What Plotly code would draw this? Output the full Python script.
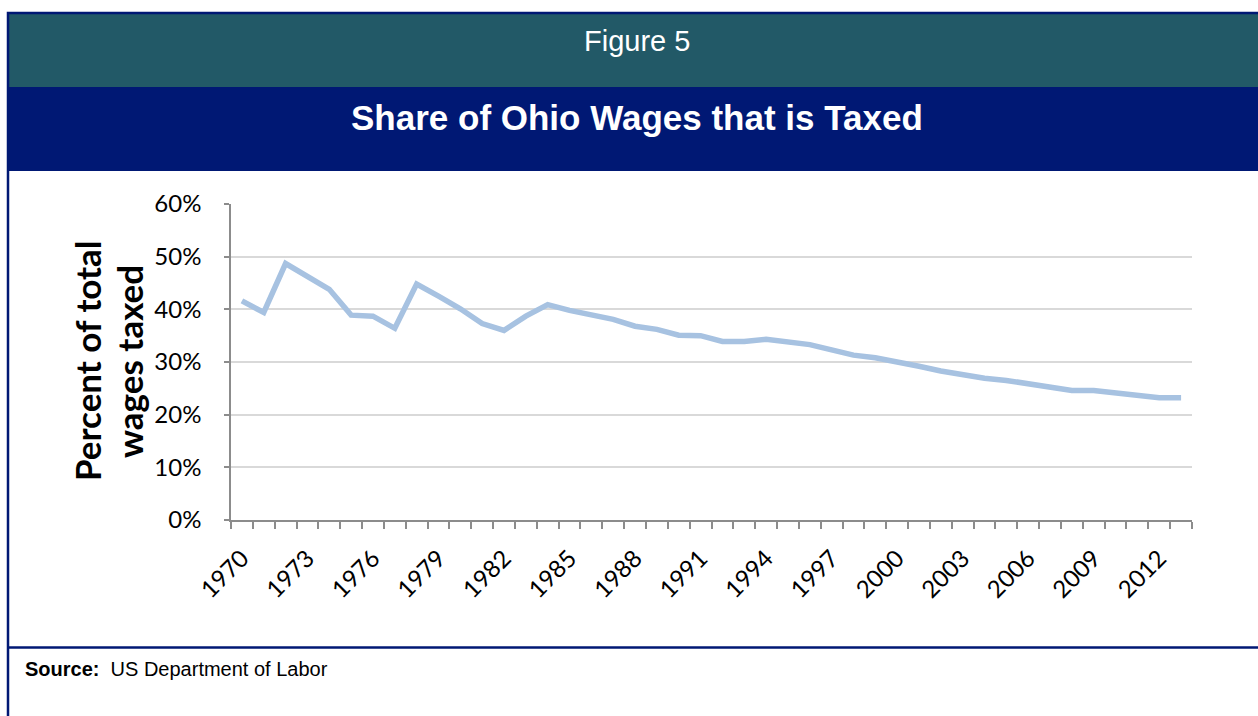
import plotly.graph_objects as go

# ---- data ----
years = list(range(1970, 2014))
share = [0.416, 0.394, 0.487, 0.463, 0.438, 0.389, 0.387, 0.364, 0.448, 0.425,
         0.401, 0.373, 0.360, 0.387, 0.409, 0.398, 0.390, 0.381, 0.368, 0.362,
         0.351, 0.350, 0.339, 0.339, 0.343, 0.339, 0.333, 0.323, 0.313, 0.308,
         0.301, 0.292, 0.283, 0.276, 0.269, 0.265, 0.259, 0.254, 0.246, 0.246,
         0.241, 0.238, 0.232, 0.232]
label_years = years[::3]
y_ticks = [0, 0.1, 0.2, 0.3, 0.4, 0.5, 0.6]

W, H = 1258, 716
L, R, T, B = 231, 1192, 204, 520
PW, PH = R - L, B - T

def px(x):
    return (x - L) / PW

def py(y):
    return (B - y) / PH

TEAL = "#225967"
NAVY = "#001874"
sans = "Liberation Sans, Arial, sans-serif"
calib = "Lato, Carlito, Calibri, sans-serif"

idx = list(range(len(years)))

fig = go.Figure()
fig.add_trace(go.Scatter(
    x=idx, y=share, mode="lines",
    line=dict(color="#A7C2E1", width=5.5),
    hoverinfo="skip", showlegend=False,
))

shapes = [
    dict(type="rect", xref="paper", yref="paper", x0=px(8), x1=px(1270), y0=py(87), y1=py(13),
         fillcolor=TEAL, line=dict(width=0), layer="below"),
    dict(type="rect", xref="paper", yref="paper", x0=px(8), x1=px(1270), y0=py(171), y1=py(87),
         fillcolor=NAVY, line=dict(width=0), layer="below"),
    dict(type="rect", xref="paper", yref="paper", x0=px(8), x1=px(1275), y0=py(740), y1=py(13),
         fillcolor="rgba(0,0,0,0)", line=dict(color=NAVY, width=2.5)),
    dict(type="line", xref="paper", yref="paper", x0=px(8), x1=px(1270), y0=py(647.5), y1=py(647.5),
         line=dict(color=NAVY, width=2.5)),
]

annotations = [
    dict(text="Figure 5", xref="paper", yref="paper", x=px(637), y=py(41),
         xanchor="center", yanchor="middle", showarrow=False,
         font=dict(family=sans, size=29, color="white")),
    dict(text="<b>Share of Ohio Wages that is Taxed</b>", xref="paper", yref="paper",
         x=px(637), y=py(117), xanchor="center", yanchor="middle", showarrow=False,
         font=dict(family=sans, size=35, color="white")),
    dict(text="<b>Percent of total</b>", xref="paper", yref="paper", x=px(87), y=py(361),
         xanchor="center", yanchor="middle", showarrow=False, textangle=-90,
         font=dict(family=calib, size=35, color="black")),
    dict(text="<b>wages taxed</b>", xref="paper", yref="paper", x=px(129), y=py(362),
         xanchor="center", yanchor="middle", showarrow=False, textangle=-90,
         font=dict(family=calib, size=35, color="black")),
    dict(text="<b>Source:</b>  US Department of Labor", xref="paper", yref="paper",
         x=px(23), y=py(669), xanchor="left", yanchor="middle", showarrow=False,
         font=dict(family=sans, size=20, color="black")),
]

fig.update_layout(
    width=W, height=H,
    margin=dict(l=L, r=W - R, t=T, b=H - B, pad=0),
    paper_bgcolor="white", plot_bgcolor="white",
    shapes=shapes, annotations=annotations,
    showlegend=False,
)

fig.update_xaxes(
    range=[-0.5, len(years) - 0.5],
    tickmode="array", tickvals=idx[::3], ticktext=[str(y) for y in label_years],
    tickangle=-45, ticks="", ticklabelstandoff=13,
    tickfont=dict(family=calib, size=24, color="black"),
    showgrid=False, zeroline=False,
    showline=True, linecolor="#8C8C8C", linewidth=1.5,
    minor=dict(tickmode="linear", tick0=-0.5, dtick=1, ticks="outside",
               ticklen=7, tickcolor="#8C8C8C", tickwidth=1.5, showgrid=False),
)
fig.update_yaxes(
    range=[0, 0.6], tickmode="array", tickvals=y_ticks, tickformat=".0%",
    ticks="outside", ticklen=5, tickcolor="#8C8C8C", tickwidth=1.5,
    ticklabelstandoff=18,
    tickfont=dict(family=calib, size=24, color="black"),
    showgrid=True, gridcolor="#D9D9D9", gridwidth=1.5,
    zeroline=False, showline=True, linecolor="#8C8C8C", linewidth=1.5,
)

fig.write_html("out.html", config={"displayModeBar": False},
               post_script="document.body.style.margin='0';document.body.style.overflow='hidden';")
